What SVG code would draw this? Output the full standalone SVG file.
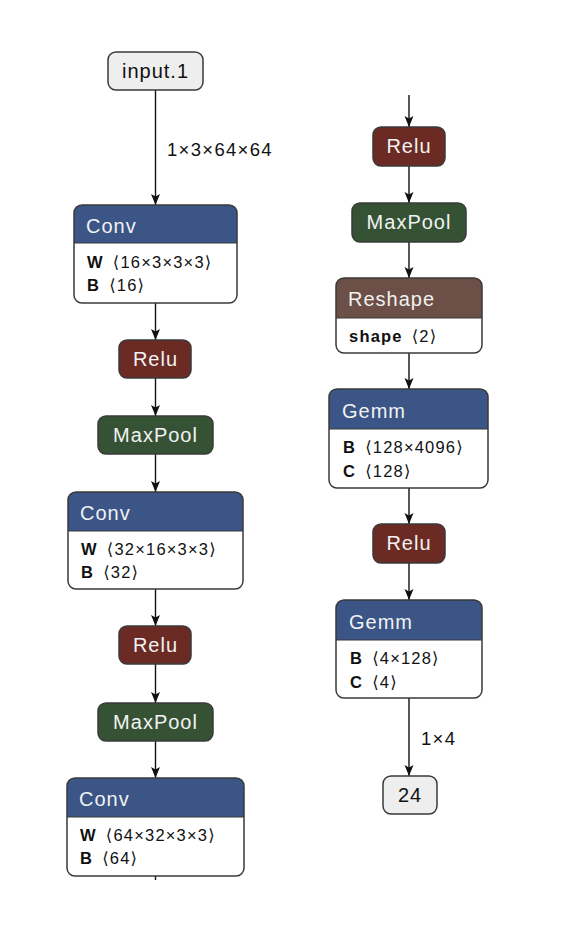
<svg xmlns="http://www.w3.org/2000/svg" width="572" height="940" viewBox="0 0 572 940">
<style>
  .box{stroke:#3a3a3a;stroke-width:1.5;}
  .title{font-family:"Liberation Sans",Arial,sans-serif;font-size:20px;letter-spacing:1px;fill:#f2f2f2;}
  .ttl-dark{font-family:"Liberation Sans",Arial,sans-serif;font-size:20px;letter-spacing:1px;fill:#111;}
  .attr{font-family:"Liberation Sans","DejaVu Sans",Arial,sans-serif;font-size:16.5px;letter-spacing:1.2px;fill:#111;}
  .attr .k{font-weight:bold;}
  .elabel{font-family:"Liberation Sans",Arial,sans-serif;font-size:18.5px;letter-spacing:1.3px;fill:#111;}
  .edge{stroke:#111;stroke-width:1.4;fill:none;}
  .sep{stroke:#3a3a3a;stroke-width:1.2;}
  .conv{fill:#3a5586;}
  .relu{fill:#6b2a23;}
  .pool{fill:#365235;}
  .shape{fill:#6c4f47;}
</style>
<defs>
  <marker id="arr" markerUnits="userSpaceOnUse" markerWidth="12" markerHeight="12" viewBox="0 0 12 12" refX="11" refY="6" orient="auto">
    <path d="M0,1.5 L11,6 L0,10.5 L2.5,6 Z" fill="#111"/>
  </marker>
</defs>
<rect width="572" height="940" fill="#fff"/>

<g id="connectors">
  <line class="edge" x1="155.5" y1="90" x2="155.5" y2="205" marker-end="url(#arr)"/>
  <text class="elabel" x="167" y="156">1×3×64×64</text>
  <line class="edge" x1="155.5" y1="303" x2="155.5" y2="340" marker-end="url(#arr)"/>
  <line class="edge" x1="155.5" y1="378" x2="155.5" y2="416" marker-end="url(#arr)"/>
  <line class="edge" x1="155.5" y1="454" x2="155.5" y2="492" marker-end="url(#arr)"/>
  <line class="edge" x1="155.5" y1="589" x2="155.5" y2="626" marker-end="url(#arr)"/>
  <line class="edge" x1="155.5" y1="664" x2="155.5" y2="703" marker-end="url(#arr)"/>
  <line class="edge" x1="155.5" y1="741" x2="155.5" y2="778" marker-end="url(#arr)"/>
  <line class="edge" x1="155.5" y1="876" x2="155.5" y2="880"/>
  <line class="edge" x1="409" y1="95" x2="409" y2="127" marker-end="url(#arr)"/>
  <line class="edge" x1="409" y1="166" x2="409" y2="203" marker-end="url(#arr)"/>
  <line class="edge" x1="409" y1="242" x2="409" y2="278" marker-end="url(#arr)"/>
  <line class="edge" x1="409" y1="353" x2="409" y2="389" marker-end="url(#arr)"/>
  <line class="edge" x1="409" y1="488" x2="409" y2="524" marker-end="url(#arr)"/>
  <line class="edge" x1="409" y1="563" x2="409" y2="600" marker-end="url(#arr)"/>
  <line class="edge" x1="409" y1="698" x2="409" y2="776" marker-end="url(#arr)"/>
  <text class="elabel" x="421" y="745">1×4</text>
</g>

<g id="input_1">
  <rect class="box" x="108" y="52" width="95" height="38" rx="8" fill="#eeeeee"/>
  <text class="ttl-dark" x="155.5" y="78" text-anchor="middle">input.1</text>
</g>

<g id="conv1">
  <rect x="74" y="205" width="163" height="98" rx="8" fill="#fff"/>
  <path class="conv" d="M74,243 V213 Q74,205 82,205 H229 Q237,205 237,213 V243 Z"/>
  <line class="sep" x1="74" y1="243" x2="237" y2="243"/>
  <rect class="box" x="74" y="205" width="163" height="98" rx="8" fill="none"/>
  <text class="title" x="86" y="233">Conv</text>
  <text class="attr" x="87" y="268"><tspan class="k">W</tspan><tspan dx="9">⟨16×3×3×3⟩</tspan></text>
  <text class="attr" x="87" y="291"><tspan class="k">B</tspan><tspan dx="9">⟨16⟩</tspan></text>
</g>

<g id="relu1">
  <rect class="box relu" x="119" y="340" width="72" height="38" rx="8"/>
  <text class="title" x="155.5" y="366" text-anchor="middle">Relu</text>
</g>

<g id="maxpool1">
  <rect class="box pool" x="98" y="416" width="115" height="38" rx="8"/>
  <text class="title" x="155.5" y="442" text-anchor="middle">MaxPool</text>
</g>

<g id="conv2">
  <rect x="68" y="492" width="175" height="97" rx="8" fill="#fff"/>
  <path class="conv" d="M68,531 V500 Q68,492 76,492 H235 Q243,492 243,500 V531 Z"/>
  <line class="sep" x1="68" y1="531" x2="243" y2="531"/>
  <rect class="box" x="68" y="492" width="175" height="97" rx="8" fill="none"/>
  <text class="title" x="80" y="520">Conv</text>
  <text class="attr" x="81" y="555"><tspan class="k">W</tspan><tspan dx="9">⟨32×16×3×3⟩</tspan></text>
  <text class="attr" x="81" y="578"><tspan class="k">B</tspan><tspan dx="9">⟨32⟩</tspan></text>
</g>

<g id="relu2">
  <rect class="box relu" x="119" y="626" width="72" height="38" rx="8"/>
  <text class="title" x="155.5" y="652" text-anchor="middle">Relu</text>
</g>

<g id="maxpool2">
  <rect class="box pool" x="98" y="703" width="115" height="38" rx="8"/>
  <text class="title" x="155.5" y="729" text-anchor="middle">MaxPool</text>
</g>

<g id="conv3">
  <rect x="67" y="778" width="177" height="98" rx="8" fill="#fff"/>
  <path class="conv" d="M67,817 V786 Q67,778 75,778 H236 Q244,778 244,786 V817 Z"/>
  <line class="sep" x1="67" y1="817" x2="244" y2="817"/>
  <rect class="box" x="67" y="778" width="177" height="98" rx="8" fill="none"/>
  <text class="title" x="79" y="806">Conv</text>
  <text class="attr" x="80" y="841"><tspan class="k">W</tspan><tspan dx="9">⟨64×32×3×3⟩</tspan></text>
  <text class="attr" x="80" y="864"><tspan class="k">B</tspan><tspan dx="9">⟨64⟩</tspan></text>
</g>

<g id="relu3">
  <rect class="box relu" x="373" y="127" width="72" height="39" rx="8"/>
  <text class="title" x="409" y="153" text-anchor="middle">Relu</text>
</g>

<g id="maxpool3">
  <rect class="box pool" x="352" y="203" width="114" height="39" rx="8"/>
  <text class="title" x="409" y="229" text-anchor="middle">MaxPool</text>
</g>

<g id="reshape">
  <rect x="336" y="278" width="146" height="75" rx="8" fill="#fff"/>
  <path class="shape" d="M336,318 V286 Q336,278 344,278 H474 Q482,278 482,286 V318 Z"/>
  <line class="sep" x1="336" y1="318" x2="482" y2="318"/>
  <rect class="box" x="336" y="278" width="146" height="75" rx="8" fill="none"/>
  <text class="title" x="348" y="306">Reshape</text>
  <text class="attr" x="349" y="342"><tspan class="k">shape</tspan><tspan dx="9">⟨2⟩</tspan></text>
</g>

<g id="gemm1">
  <rect x="329" y="389" width="159" height="99" rx="8" fill="#fff"/>
  <path class="conv" d="M329,429 V397 Q329,389 337,389 H480 Q488,389 488,397 V429 Z"/>
  <line class="sep" x1="329" y1="429" x2="488" y2="429"/>
  <rect class="box" x="329" y="389" width="159" height="99" rx="8" fill="none"/>
  <text class="title" x="342" y="418">Gemm</text>
  <text class="attr" x="343" y="453"><tspan class="k">B</tspan><tspan dx="9">⟨128×4096⟩</tspan></text>
  <text class="attr" x="343" y="477"><tspan class="k">C</tspan><tspan dx="9">⟨128⟩</tspan></text>
</g>

<g id="relu4">
  <rect class="box relu" x="373" y="524" width="72" height="39" rx="8"/>
  <text class="title" x="409" y="550" text-anchor="middle">Relu</text>
</g>

<g id="gemm2">
  <rect x="336" y="600" width="146" height="98" rx="8" fill="#fff"/>
  <path class="conv" d="M336,640 V608 Q336,600 344,600 H474 Q482,600 482,608 V640 Z"/>
  <line class="sep" x1="336" y1="640" x2="482" y2="640"/>
  <rect class="box" x="336" y="600" width="146" height="98" rx="8" fill="none"/>
  <text class="title" x="349" y="629">Gemm</text>
  <text class="attr" x="350" y="664"><tspan class="k">B</tspan><tspan dx="9">⟨4×128⟩</tspan></text>
  <text class="attr" x="350" y="688"><tspan class="k">C</tspan><tspan dx="9">⟨4⟩</tspan></text>
</g>

<g id="output_24">
  <rect class="box" x="383" y="776" width="54" height="38" rx="8" fill="#eeeeee"/>
  <text class="ttl-dark" x="410" y="802" text-anchor="middle">24</text>
</g>
</svg>
